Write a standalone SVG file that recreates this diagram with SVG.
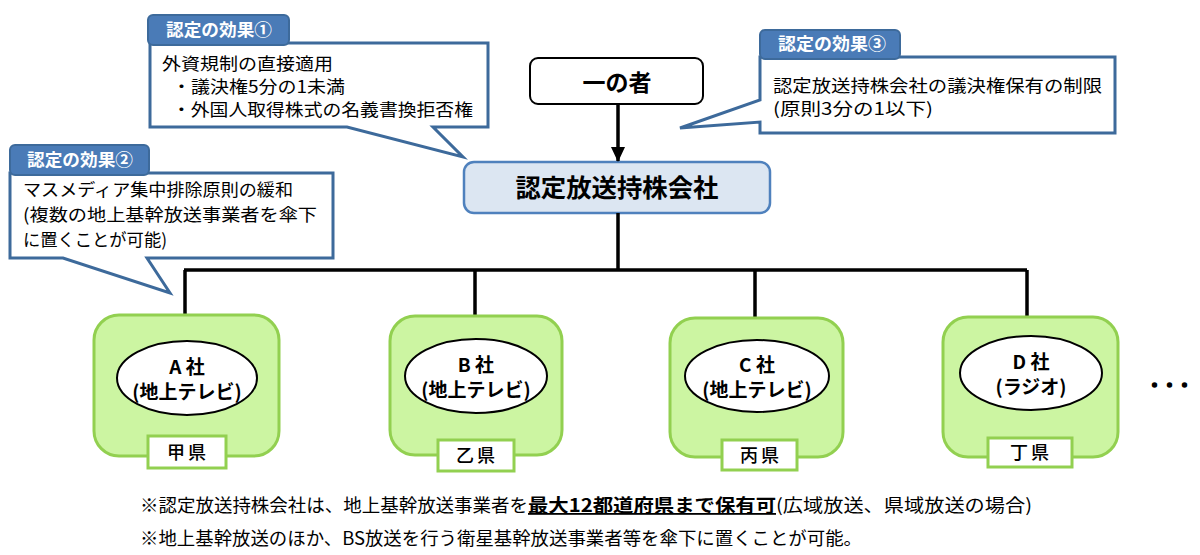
<svg xmlns="http://www.w3.org/2000/svg" width="1200" height="555" viewBox="0 0 1200 555">
<defs>
<marker id="ah" markerWidth="15" markerHeight="14" refX="14" refY="7" orient="auto" markerUnits="userSpaceOnUse" viewBox="0 0 15 14">
<path d="M0,0 L15,7 L0,14 Z" fill="#000"/>
</marker>
<style>
text{font-family:'Noto Sans CJK JP','Liberation Sans',sans-serif;fill:#000;}
.call{fill:#fff;stroke:#3d6a9b;stroke-width:3;stroke-linejoin:miter;}
.tab{fill:#4a7bb7;stroke:#3d6a9b;stroke-width:2;}
.tabt{font-size:17px;font-weight:bold;fill:#fff;}
.body{font-size:17px;}
.body2{font-size:17.5px;}
.conn{stroke:#000;stroke-width:3.5;fill:none;}
.green{fill:#ccf5a2;stroke:#92d050;stroke-width:3;}
.oval{fill:#fff;stroke:#000;stroke-width:2;}
.ovt{font-size:19px;font-weight:bold;text-anchor:middle;}
.lab{fill:#fff;stroke:#92d050;stroke-width:3;}
.labt{font-size:18px;font-weight:500;text-anchor:middle;letter-spacing:3px;}
.foot{font-size:18px;}
</style>
</defs>
<rect width="1200" height="555" fill="#fff"/>

<g id="callout1">
<path class="call" d="M150,43 H488 V127 H433 L463,157 L347,127 H150 Z"/>
<rect class="tab" x="148" y="15" width="141" height="30" rx="5"/>
<text class="tabt" x="166" y="36" textLength="106" lengthAdjust="spacingAndGlyphs">認定の効果①</text>
<text class="body" x="162" y="70" textLength="171" lengthAdjust="spacingAndGlyphs">外資規制の直接適用</text>
<text class="body" x="172" y="93" textLength="173" lengthAdjust="spacingAndGlyphs">・議決権5分の1未満</text>
<text class="body" x="172" y="116" textLength="301" lengthAdjust="spacingAndGlyphs">・外国人取得株式の名義書換拒否権</text>
</g>

<g id="callout2">
<path class="call" d="M10,173 H333 V258 H147 L170,293 L63,258 H10 Z"/>
<rect class="tab" x="10" y="145" width="139" height="30" rx="5"/>
<text class="tabt" x="27" y="166" textLength="106" lengthAdjust="spacingAndGlyphs">認定の効果②</text>
<text class="body2" x="23" y="196" textLength="270" lengthAdjust="spacingAndGlyphs">マスメディア集中排除原則の緩和</text>
<text class="body2" x="23" y="221" textLength="294" lengthAdjust="spacingAndGlyphs">(複数の地上基幹放送事業者を傘下</text>
<text class="body2" x="23" y="246" textLength="144" lengthAdjust="spacingAndGlyphs">に置くことが可能)</text>
</g>

<g id="callout3">
<path class="call" d="M760,57 H1115 V133 H760 V122 L680,128 L760,100 Z"/>
<rect class="tab" x="760" y="30" width="140" height="29" rx="5"/>
<text class="tabt" x="778" y="50" textLength="108" lengthAdjust="spacingAndGlyphs">認定の効果③</text>
<text class="body" x="773" y="92" textLength="329" lengthAdjust="spacingAndGlyphs">認定放送持株会社の議決権保有の制限</text>
<text class="body" x="773" y="115" textLength="160" lengthAdjust="spacingAndGlyphs">(原則3分の1以下)</text>
</g>

<g id="node-ichinomono">
<rect x="530" y="58" width="173" height="46" rx="8" fill="#fff" stroke="#000" stroke-width="2"/>
<text x="617" y="91" font-size="23" font-weight="bold" text-anchor="middle">一の者</text>
</g>

<g id="node-holding">
<rect x="464" y="162" width="306" height="51" rx="10" fill="#dce6f2" stroke="#4f81bd" stroke-width="2.5"/>
<text x="617" y="197" font-size="25" font-weight="bold" text-anchor="middle" textLength="203" lengthAdjust="spacingAndGlyphs">認定放送持株会社</text>
</g>

<g id="connectors">
<line class="conn" x1="618" y1="104" x2="618" y2="161" marker-end="url(#ah)"/>
<path class="conn" d="M618,213 V270 M184,270 H1027"/>
<line class="conn" x1="185" y1="270" x2="185" y2="336" marker-end="url(#ah)"/>
<line class="conn" x1="475" y1="270" x2="475" y2="336" marker-end="url(#ah)"/>
<line class="conn" x1="755" y1="270" x2="755" y2="336" marker-end="url(#ah)"/>
<line class="conn" x1="1027" y1="270" x2="1027" y2="336" marker-end="url(#ah)"/>
</g>

<g id="node-a">
<rect class="green" x="94" y="315" width="185" height="141" rx="25"/>
<ellipse class="oval" cx="187" cy="378" rx="70" ry="37"/>
<text class="ovt" x="187" y="374">A 社</text>
<text class="ovt" x="187" y="399">(地上テレビ)</text>
<rect class="lab" x="148" y="436" width="78" height="32"/>
<text class="labt" x="188" y="459">甲県</text>
</g>

<g id="node-b">
<rect class="green" x="390" y="316" width="172" height="139" rx="25"/>
<ellipse class="oval" cx="476" cy="376" rx="71" ry="37"/>
<text class="ovt" x="476" y="372">B 社</text>
<text class="ovt" x="476" y="397">(地上テレビ)</text>
<rect class="lab" x="438" y="440" width="76" height="31"/>
<text class="labt" x="477" y="462">乙県</text>
</g>

<g id="node-c">
<rect class="green" x="670" y="318" width="173" height="139" rx="25"/>
<ellipse class="oval" cx="757" cy="376" rx="72" ry="36"/>
<text class="ovt" x="757" y="372">C 社</text>
<text class="ovt" x="757" y="397">(地上テレビ)</text>
<rect class="lab" x="722" y="440" width="75" height="30"/>
<text class="labt" x="761" y="462">丙県</text>
</g>

<g id="node-d">
<rect class="green" x="943" y="317" width="175" height="140" rx="25"/>
<ellipse class="oval" cx="1031" cy="373" rx="71" ry="37"/>
<text class="ovt" x="1031" y="369">D 社</text>
<text class="ovt" x="1031" y="394">(ラジオ)</text>
<rect class="lab" x="988" y="438" width="84" height="29"/>
<text class="labt" x="1031" y="459">丁県</text>
</g>

<g id="ellipsis">
<text x="1147" y="391" font-size="15" font-weight="bold" stroke="#000" stroke-width="1.6">・・・</text>
</g>

<g id="footnotes">
<text class="foot" x="140" y="512" textLength="388" lengthAdjust="spacingAndGlyphs">※認定放送持株会社は、地上基幹放送事業者を</text>
<text class="foot" x="528" y="512" font-weight="bold" text-decoration="underline" textLength="248" lengthAdjust="spacingAndGlyphs">最大12都道府県まで保有可</text>
<text class="foot" x="776" y="512" textLength="256" lengthAdjust="spacingAndGlyphs">(広域放送、県域放送の場合)</text>
<text class="foot" x="140" y="545" textLength="722" lengthAdjust="spacingAndGlyphs">※地上基幹放送のほか、BS放送を行う衛星基幹放送事業者等を傘下に置くことが可能。</text>
</g>
</svg>
